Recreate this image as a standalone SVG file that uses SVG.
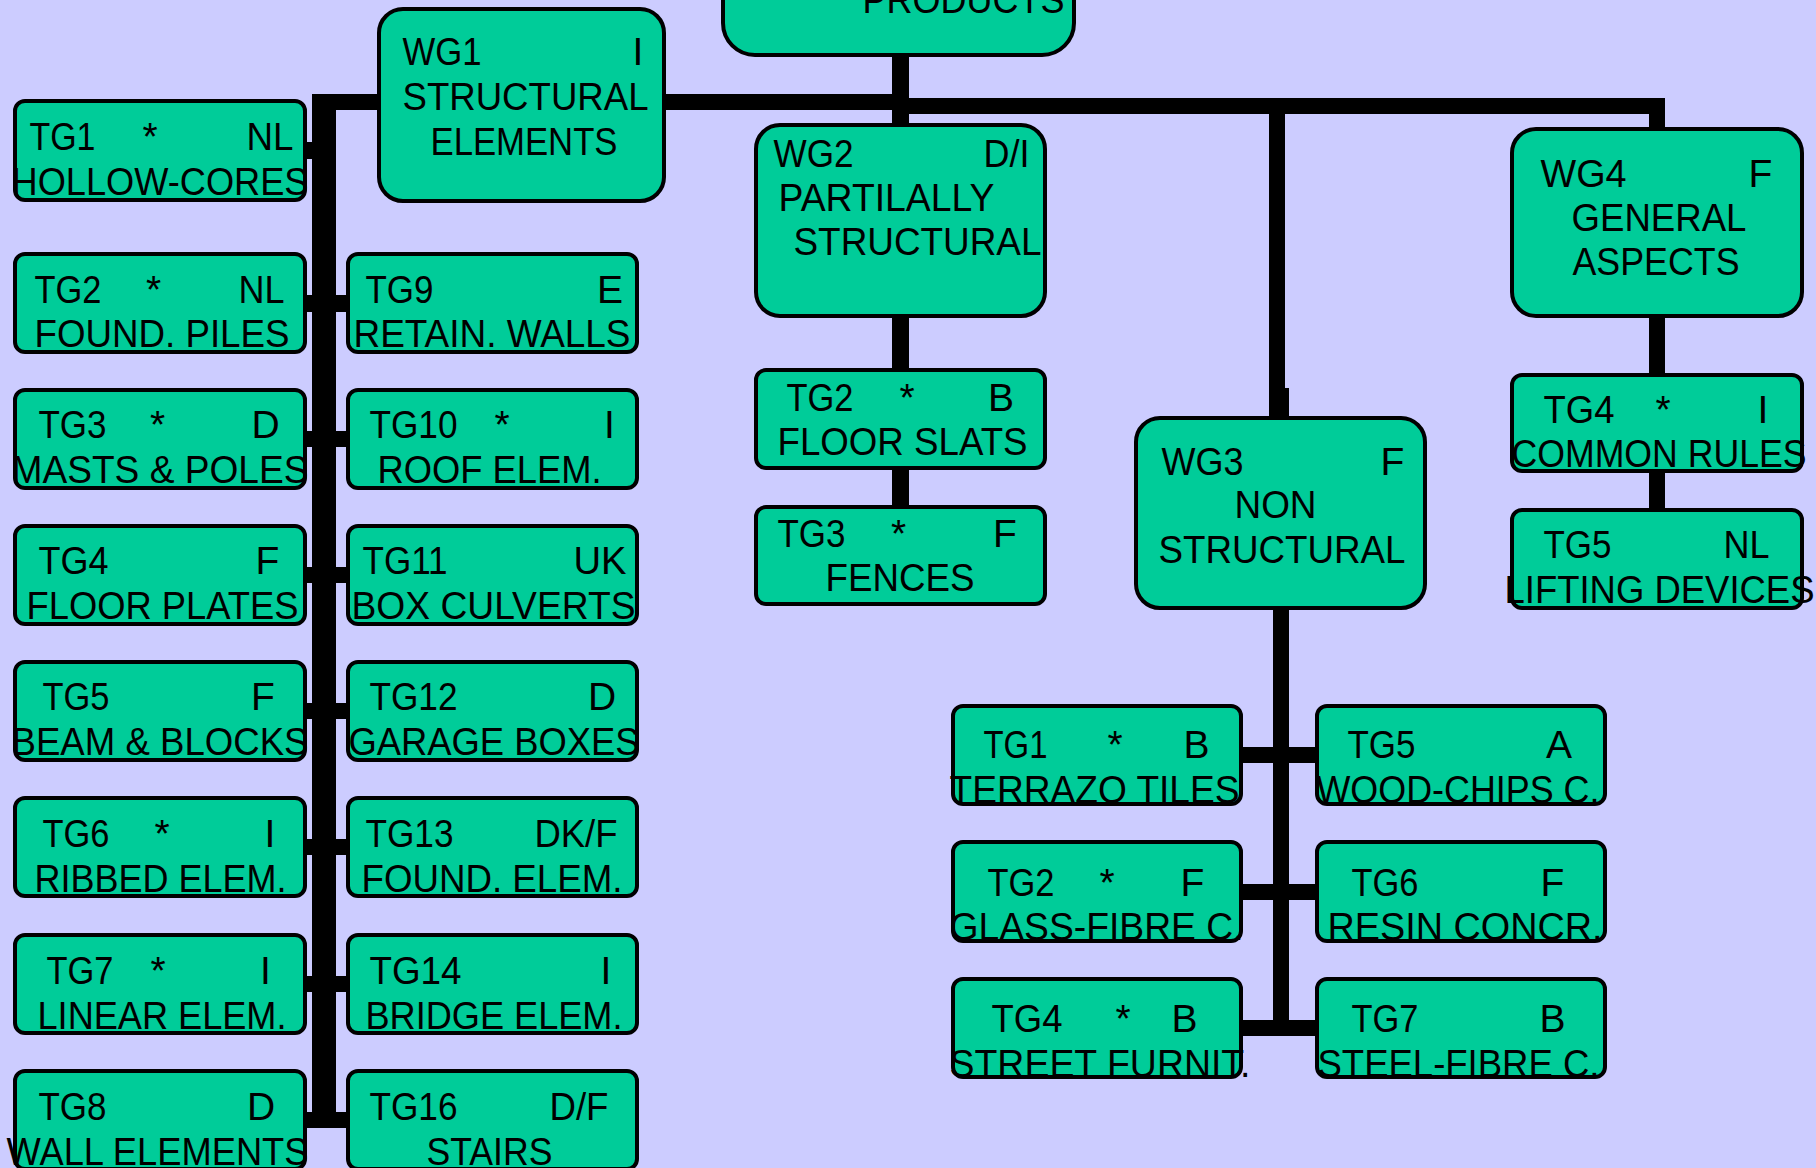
<svg xmlns="http://www.w3.org/2000/svg" width="1816" height="1168" viewBox="0 0 1816 1168">
  <style>
    .bg { fill: #ccccff; }
    .box { fill: #00cc99; stroke: #000; stroke-width: 4; }
    .ln { fill: #000; }
    text { font-family: "Liberation Sans", Arial, sans-serif; font-size: 39px; fill: #000; text-anchor: middle; }
  </style>
  <rect class="bg" x="0" y="0" width="1816" height="1168"/>

  <!-- connectors -->
  <g id="connectors">
    <!-- WG1 spine with tabs to each type group -->
    <rect class="ln" x="312" y="94" width="24" height="1034"/>
    <rect class="ln" x="312" y="94" width="68" height="16"/>
    <rect class="ln" x="305" y="142" width="10" height="17"/>
    <rect class="ln" x="305" y="295" width="43" height="17"/>
    <rect class="ln" x="305" y="431" width="43" height="16"/>
    <rect class="ln" x="305" y="567" width="43" height="16"/>
    <rect class="ln" x="305" y="703" width="43" height="16"/>
    <rect class="ln" x="305" y="839" width="43" height="16"/>
    <rect class="ln" x="305" y="976" width="43" height="16"/>
    <rect class="ln" x="305" y="1112" width="43" height="16"/>
    <!-- main bus -->
    <rect class="ln" x="664" y="94" width="237" height="16"/>
    <rect class="ln" x="892" y="98" width="773" height="16"/>
    <rect class="ln" x="892" y="54" width="17" height="72"/>
    <rect class="ln" x="1269" y="98" width="16" height="318"/>
    <rect class="ln" x="1273" y="388" width="16" height="30"/>
    <rect class="ln" x="1649" y="98" width="16" height="31"/>
    <!-- WG2 branch -->
    <rect class="ln" x="892" y="316" width="17" height="54"/>
    <rect class="ln" x="892" y="468" width="17" height="39"/>
    <!-- WG4 branch -->
    <rect class="ln" x="1649" y="316" width="16" height="59"/>
    <rect class="ln" x="1649" y="471" width="16" height="39"/>
    <!-- WG3 branch -->
    <rect class="ln" x="1273" y="608" width="16" height="428"/>
    <rect class="ln" x="1241" y="747" width="76" height="16"/>
    <rect class="ln" x="1241" y="884" width="76" height="16"/>
    <rect class="ln" x="1241" y="1020" width="76" height="16"/>
  </g>

  <!-- top node -->
  <g id="products">
    <rect class="box" x="723" y="-60" width="351" height="115" rx="32"/>
    <text x="963.5" y="13" textLength="202" lengthAdjust="spacingAndGlyphs">PRODUCTS</text>
  </g>

  <!-- working groups -->
  <g id="wg1">
    <rect class="box" x="379" y="9" width="285" height="192" rx="24"/>
    <text x="442" y="65" textLength="79" lengthAdjust="spacingAndGlyphs">WG1</text>
    <text x="638" y="65">I</text>
    <text x="525.5" y="110" textLength="246" lengthAdjust="spacingAndGlyphs">STRUCTURAL</text>
    <text x="524" y="155" textLength="187" lengthAdjust="spacingAndGlyphs">ELEMENTS</text>
  </g>
  <g id="wg2">
    <rect class="box" x="756" y="125" width="289" height="191" rx="24"/>
    <text x="813.5" y="167" textLength="80" lengthAdjust="spacingAndGlyphs">WG2</text>
    <text x="1006.5" y="167" textLength="46" lengthAdjust="spacingAndGlyphs">D/I</text>
    <text x="886.5" y="211" textLength="216" lengthAdjust="spacingAndGlyphs">PARTILALLY</text>
    <text x="917.5" y="255" textLength="248" lengthAdjust="spacingAndGlyphs">STRUCTURAL</text>
  </g>
  <g id="wg3">
    <rect class="box" x="1136" y="418" width="289" height="190" rx="24"/>
    <text x="1202.5" y="475" textLength="82" lengthAdjust="spacingAndGlyphs">WG3</text>
    <text x="1392.5" y="475">F</text>
    <text x="1275.5" y="518" textLength="82" lengthAdjust="spacingAndGlyphs">NON</text>
    <text x="1282" y="563" textLength="247" lengthAdjust="spacingAndGlyphs">STRUCTURAL</text>
  </g>
  <g id="wg4">
    <rect class="box" x="1512" y="129" width="290" height="187" rx="24"/>
    <text x="1583.5" y="187" textLength="86" lengthAdjust="spacingAndGlyphs">WG4</text>
    <text x="1760.5" y="187">F</text>
    <text x="1659" y="231" textLength="175" lengthAdjust="spacingAndGlyphs">GENERAL</text>
    <text x="1656" y="275" textLength="167" lengthAdjust="spacingAndGlyphs">ASPECTS</text>
  </g>

  <!-- WG1 type groups, left column -->
  <g id="wg1-tg1">
    <rect class="box" x="15" y="101" width="290" height="99" rx="10"/>
    <text x="62.5" y="150" textLength="66" lengthAdjust="spacingAndGlyphs">TG1</text>
    <text x="150" y="150">*</text>
    <text x="270" y="150" textLength="47" lengthAdjust="spacingAndGlyphs">NL</text>
    <text x="160" y="195" textLength="297" lengthAdjust="spacingAndGlyphs">HOLLOW-CORES</text>
  </g>
  <g id="wg1-tg2">
    <rect class="box" x="15" y="254" width="290" height="98" rx="10"/>
    <text x="68" y="303" textLength="67" lengthAdjust="spacingAndGlyphs">TG2</text>
    <text x="153.5" y="303">*</text>
    <text x="261.5" y="303" textLength="46" lengthAdjust="spacingAndGlyphs">NL</text>
    <text x="162" y="347" textLength="255" lengthAdjust="spacingAndGlyphs">FOUND. PILES</text>
  </g>
  <g id="wg1-tg3">
    <rect class="box" x="15" y="390" width="290" height="98" rx="10"/>
    <text x="72.5" y="438" textLength="68" lengthAdjust="spacingAndGlyphs">TG3</text>
    <text x="157.5" y="438">*</text>
    <text x="265.5" y="438">D</text>
    <text x="160" y="483" textLength="297" lengthAdjust="spacingAndGlyphs">MASTS &amp; POLES</text>
  </g>
  <g id="wg1-tg4">
    <rect class="box" x="15" y="526" width="290" height="98" rx="10"/>
    <text x="73.5" y="574" textLength="70" lengthAdjust="spacingAndGlyphs">TG4</text>
    <text x="267.5" y="574">F</text>
    <text x="162.5" y="619" textLength="272" lengthAdjust="spacingAndGlyphs">FLOOR PLATES</text>
  </g>
  <g id="wg1-tg5">
    <rect class="box" x="15" y="662" width="290" height="98" rx="10"/>
    <text x="76" y="710" textLength="67" lengthAdjust="spacingAndGlyphs">TG5</text>
    <text x="263" y="710">F</text>
    <text x="160" y="755" textLength="297" lengthAdjust="spacingAndGlyphs">BEAM &amp; BLOCKS</text>
  </g>
  <g id="wg1-tg6">
    <rect class="box" x="15" y="798" width="290" height="98" rx="10"/>
    <text x="76" y="847" textLength="67" lengthAdjust="spacingAndGlyphs">TG6</text>
    <text x="162" y="847">*</text>
    <text x="270" y="847">I</text>
    <text x="160.5" y="892" textLength="252" lengthAdjust="spacingAndGlyphs">RIBBED ELEM.</text>
  </g>
  <g id="wg1-tg7">
    <rect class="box" x="15" y="935" width="290" height="98" rx="10"/>
    <text x="80" y="984" textLength="67" lengthAdjust="spacingAndGlyphs">TG7</text>
    <text x="158" y="984">*</text>
    <text x="265.5" y="984">I</text>
    <text x="162" y="1029" textLength="249" lengthAdjust="spacingAndGlyphs">LINEAR ELEM.</text>
  </g>
  <g id="wg1-tg8">
    <rect class="box" x="15" y="1071" width="290" height="98" rx="10"/>
    <text x="72.5" y="1120" textLength="68" lengthAdjust="spacingAndGlyphs">TG8</text>
    <text x="261" y="1120">D</text>
    <text x="157.5" y="1165" textLength="302" lengthAdjust="spacingAndGlyphs">WALL ELEMENTS</text>
  </g>

  <!-- WG1 type groups, right column -->
  <g id="wg1-tg9">
    <rect class="box" x="348" y="254" width="289" height="98" rx="10"/>
    <text x="399.5" y="303" textLength="68" lengthAdjust="spacingAndGlyphs">TG9</text>
    <text x="610" y="303">E</text>
    <text x="492" y="347" textLength="277" lengthAdjust="spacingAndGlyphs">RETAIN. WALLS</text>
  </g>
  <g id="wg1-tg10">
    <rect class="box" x="348" y="390" width="289" height="98" rx="10"/>
    <text x="413.5" y="438" textLength="88" lengthAdjust="spacingAndGlyphs">TG10</text>
    <text x="502" y="438">*</text>
    <text x="609.5" y="438">I</text>
    <text x="489.5" y="483" textLength="224" lengthAdjust="spacingAndGlyphs">ROOF ELEM.</text>
  </g>
  <g id="wg1-tg11">
    <rect class="box" x="348" y="526" width="289" height="98" rx="10"/>
    <text x="405" y="574" textLength="85" lengthAdjust="spacingAndGlyphs">TG11</text>
    <text x="600" y="574" textLength="53" lengthAdjust="spacingAndGlyphs">UK</text>
    <text x="493.5" y="619" textLength="284" lengthAdjust="spacingAndGlyphs">BOX CULVERTS</text>
  </g>
  <g id="wg1-tg12">
    <rect class="box" x="348" y="662" width="289" height="98" rx="10"/>
    <text x="413.5" y="710" textLength="88" lengthAdjust="spacingAndGlyphs">TG12</text>
    <text x="602" y="710">D</text>
    <text x="494" y="755" textLength="291" lengthAdjust="spacingAndGlyphs">GARAGE BOXES</text>
  </g>
  <g id="wg1-tg13">
    <rect class="box" x="348" y="798" width="289" height="98" rx="10"/>
    <text x="409.5" y="847" textLength="88" lengthAdjust="spacingAndGlyphs">TG13</text>
    <text x="576" y="847" textLength="83" lengthAdjust="spacingAndGlyphs">DK/F</text>
    <text x="492" y="892" textLength="261" lengthAdjust="spacingAndGlyphs">FOUND. ELEM.</text>
  </g>
  <g id="wg1-tg14">
    <rect class="box" x="348" y="935" width="289" height="98" rx="10"/>
    <text x="415.5" y="984" textLength="92" lengthAdjust="spacingAndGlyphs">TG14</text>
    <text x="606" y="984">I</text>
    <text x="494" y="1029" textLength="257" lengthAdjust="spacingAndGlyphs">BRIDGE ELEM.</text>
  </g>
  <g id="wg1-tg16">
    <rect class="box" x="348" y="1071" width="289" height="98" rx="10"/>
    <text x="413.5" y="1120" textLength="88" lengthAdjust="spacingAndGlyphs">TG16</text>
    <text x="579" y="1120" textLength="59" lengthAdjust="spacingAndGlyphs">D/F</text>
    <text x="489.5" y="1165" textLength="126" lengthAdjust="spacingAndGlyphs">STAIRS</text>
  </g>

  <!-- WG2 type groups -->
  <g id="wg2-tg2">
    <rect class="box" x="756" y="370" width="289" height="98" rx="10"/>
    <text x="820" y="411" textLength="67" lengthAdjust="spacingAndGlyphs">TG2</text>
    <text x="907" y="411">*</text>
    <text x="1001" y="411">B</text>
    <text x="902.5" y="455" textLength="250" lengthAdjust="spacingAndGlyphs">FLOOR SLATS</text>
  </g>
  <g id="wg2-tg3">
    <rect class="box" x="756" y="507" width="289" height="97" rx="10"/>
    <text x="811.5" y="547" textLength="68" lengthAdjust="spacingAndGlyphs">TG3</text>
    <text x="898.5" y="547">*</text>
    <text x="1005" y="547">F</text>
    <text x="900" y="591" textLength="149" lengthAdjust="spacingAndGlyphs">FENCES</text>
  </g>

  <!-- WG4 type groups -->
  <g id="wg4-tg4">
    <rect class="box" x="1512" y="375" width="290" height="96" rx="10"/>
    <text x="1579" y="423" textLength="71" lengthAdjust="spacingAndGlyphs">TG4</text>
    <text x="1663" y="423">*</text>
    <text x="1763" y="423">I</text>
    <text x="1659" y="467" textLength="295" lengthAdjust="spacingAndGlyphs">COMMON RULES</text>
  </g>
  <g id="wg4-tg5">
    <rect class="box" x="1512" y="510" width="290" height="98" rx="10"/>
    <text x="1577.5" y="558" textLength="68" lengthAdjust="spacingAndGlyphs">TG5</text>
    <text x="1746.5" y="558" textLength="46" lengthAdjust="spacingAndGlyphs">NL</text>
    <text x="1659.5" y="603" textLength="310" lengthAdjust="spacingAndGlyphs">LIFTING DEVICES</text>
  </g>

  <!-- WG3 type groups -->
  <g id="wg3-tg1">
    <rect class="box" x="953" y="706" width="288" height="98" rx="10"/>
    <text x="1015.5" y="758" textLength="64" lengthAdjust="spacingAndGlyphs">TG1</text>
    <text x="1115" y="758">*</text>
    <text x="1196.5" y="758">B</text>
    <text x="1094.5" y="803" textLength="290" lengthAdjust="spacingAndGlyphs">TERRAZO TILES</text>
  </g>
  <g id="wg3-tg5">
    <rect class="box" x="1317" y="706" width="288" height="98" rx="10"/>
    <text x="1381.5" y="758" textLength="68" lengthAdjust="spacingAndGlyphs">TG5</text>
    <text x="1559" y="758">A</text>
    <text x="1458" y="803" textLength="283" lengthAdjust="spacingAndGlyphs">WOOD-CHIPS C.</text>
  </g>
  <g id="wg3-tg2">
    <rect class="box" x="953" y="842" width="288" height="99" rx="10"/>
    <text x="1021" y="896" textLength="67" lengthAdjust="spacingAndGlyphs">TG2</text>
    <text x="1107" y="896">*</text>
    <text x="1192.5" y="896">F</text>
    <text x="1096.5" y="940" textLength="294" lengthAdjust="spacingAndGlyphs">GLASS-FIBRE C.</text>
  </g>
  <g id="wg3-tg6">
    <rect class="box" x="1317" y="842" width="288" height="99" rx="10"/>
    <text x="1385" y="896" textLength="67" lengthAdjust="spacingAndGlyphs">TG6</text>
    <text x="1552.5" y="896">F</text>
    <text x="1465" y="940" textLength="275" lengthAdjust="spacingAndGlyphs">RESIN CONCR.</text>
  </g>
  <g id="wg3-tg4">
    <rect class="box" x="953" y="979" width="288" height="98" rx="10"/>
    <text x="1027" y="1032" textLength="71" lengthAdjust="spacingAndGlyphs">TG4</text>
    <text x="1123" y="1032">*</text>
    <text x="1184.5" y="1032">B</text>
    <text x="1100" y="1077" textLength="301" lengthAdjust="spacingAndGlyphs">STREET FURNIT.</text>
  </g>
  <g id="wg3-tg7">
    <rect class="box" x="1317" y="979" width="288" height="98" rx="10"/>
    <text x="1385" y="1032" textLength="67" lengthAdjust="spacingAndGlyphs">TG7</text>
    <text x="1552.5" y="1032">B</text>
    <text x="1458.5" y="1077" textLength="282" lengthAdjust="spacingAndGlyphs">STEEL-FIBRE C.</text>
  </g>
</svg>
